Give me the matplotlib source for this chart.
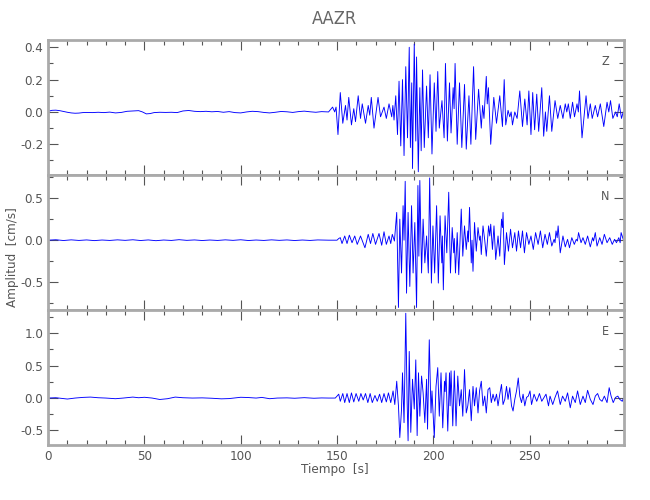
import numpy as np
import matplotlib
matplotlib.use('Agg')
import matplotlib.pyplot as plt
from matplotlib.ticker import MultipleLocator, FormatStrFormatter

plt.rcParams['font.family'] = ['Liberation Sans Narrow', 'DejaVu Sans']
plt.rcParams['font.stretch'] = 'condensed'

STATION = 'AAZR'
COMPONENTS = ['Z', 'N', 'E']

# --- Z component (time [s], amplitude [cm/s]) ---
z_t = [0, 2, 4, 6, 8, 10, 12, 14, 16, 18, 20, 23, 26, 29, 32, 35, 38, 41, 44, 47,
       49, 51, 53, 55, 58, 61, 64, 67, 70, 73, 76, 79, 82, 85, 88, 91, 94, 97, 100, 103,
       106, 109, 112, 115, 118, 121, 124, 127, 130, 133, 136, 139, 142,
       145.6, 147.7, 148.8, 149.5, 150.5, 151.7, 153.0, 154.4, 155.2, 156.1,
       157.5, 158.7, 159.6, 161.0, 162.2, 163.1, 164.8, 166.2, 167.0, 167.8,
       169.2, 171.3, 172.6, 174.4, 175.6, 177.0, 178.4, 179.0, 179.6, 180.5,
       181.4, 182.2, 183.1, 184.0, 184.8, 185.7, 186.6, 187.5, 188.1, 188.8,
       189.2, 190.1, 190.9, 191.3, 192.2, 193.0, 193.7, 194.4, 195.3, 196.5,
       197.4, 198.3, 199.3, 200.5, 201.4, 202.3, 203.1, 204.5, 205.6, 206.3,
       207.3, 208.4, 209.2, 210.3, 210.8, 211.3, 212.4, 213.6, 214.8, 216.2,
       217.1, 218.5, 219.5, 220.9, 222.0, 223.5, 224.9, 225.6, 226.3, 227.5,
       228.0, 228.6, 229.8, 231.4, 232.8, 234.5, 235.9, 236.8, 237.6, 238.8,
       239.7, 240.4, 241.1, 242.3, 243.5, 244.9, 246.3, 247.5, 248.7, 249.6,
       250.7, 251.6, 252.6, 253.7, 254.7, 256.3, 257.3, 258.2, 258.9, 260.3,
       261.5, 263.2, 264.6, 265.9, 267.3, 268.5, 269.3, 270.1, 271.1, 272.3,
       273.3, 274.6, 275.3, 275.9, 277.2, 278.4, 279.3, 280.3, 281.5, 282.5,
       284.1, 285.3, 286.7, 288.5, 290.2, 291.1, 292.0, 293.2, 294.6, 295.5,
       296.5, 297.7, 298.6]
z_amp = [0.004, 0.010, 0.011, 0.008, 0.003, -0.002, -0.006, -0.008, -0.007, -0.004,
         -0.003, -0.004, -0.002, -0.004, -0.001, -0.006, -0.003, 0.004, 0.006, 0.008,
         0.000, -0.012, -0.010, -0.004, -0.002, -0.003, -0.002, -0.004, 0.006, 0.009,
         0.004, 0.002, 0.004, 0.001, 0.003, -0.002, 0.002, -0.004, -0.006, 0.000,
         0.004, 0.002, -0.003, -0.006, -0.002, 0.003, 0.001, -0.003, 0.002, 0.005,
         0.001, -0.002, 0.002,
         0.00, 0.03, 0.00, 0.03, -0.14, 0.12, -0.07, 0.04, -0.05, 0.09,
         -0.08, 0.02, -0.06, 0.10, -0.04, 0.05, -0.07, 0.04, -0.02, 0.09,
         -0.10, 0.09, -0.03, 0.03, -0.04, 0.05, -0.03, 0.04, -0.05, 0.10,
         -0.14, 0.19, -0.21, 0.20, -0.27, 0.28, -0.16, 0.40, -0.22, 0.18,
         -0.35, 0.42, -0.18, 0.34, -0.37, 0.15, -0.24, 0.26, -0.22, 0.16,
         -0.16, 0.23, -0.26, 0.18, -0.12, 0.25, -0.10, 0.07, -0.16, 0.30,
         -0.18, 0.18, -0.13, 0.15, 0.02, 0.30, -0.20, 0.18, -0.22, 0.17,
         -0.23, 0.10, -0.20, 0.28, -0.17, 0.14, -0.10, 0.04, -0.04, 0.22,
         0.05, 0.15, -0.20, 0.09, -0.07, 0.10, -0.09, 0.20, -0.08, 0.01,
         -0.03, 0.00, -0.08, 0.00, -0.04, 0.13, -0.09, 0.08, -0.08, 0.13,
         -0.14, 0.12, -0.11, 0.11, -0.12, 0.15, -0.15, 0.00, -0.12, 0.10,
         -0.12, 0.07, -0.04, 0.04, -0.04, 0.05, 0.00, 0.05, -0.04, 0.06,
         -0.03, 0.05, 0.00, 0.13, -0.16, -0.01, 0.10, -0.04, 0.05, -0.04,
         0.04, -0.03, 0.05, -0.09, 0.06, 0.00, 0.07, -0.04, 0.00, -0.03,
         0.05, -0.04, 0.00]

# --- N component ---
n_t = [0, 4, 8, 12, 16, 20, 24, 28, 32, 36, 40, 44, 48, 52, 56, 60, 64, 68, 72, 76,
       80, 84, 88, 92, 96, 100, 104, 108, 112, 116, 120, 124, 128, 132, 136, 140, 144,
       145.6, 150.0, 150.9, 151.7, 152.6, 154.0, 155.2, 156.4, 157.8, 159.2,
       160.5, 162.2, 164.5, 166.2, 167.4, 168.6, 170.0, 171.8, 173.2, 174.4,
       175.6, 177.0, 177.9, 178.7, 179.8, 181.0, 181.9, 182.6, 183.5, 184.3,
       184.8, 185.4, 186.1, 186.9, 187.8, 188.7, 189.5, 190.4, 191.3, 192.0,
       192.5, 193.0, 193.9, 194.7, 195.6, 196.5, 197.4, 198.1, 199.0, 199.8,
       200.7, 201.7, 202.6, 203.5, 204.4, 204.7, 205.2, 206.1, 207.0, 208.0,
       208.9, 209.8, 210.6, 210.9, 211.5, 212.4, 213.2, 214.5, 215.3, 216.2,
       217.1, 217.9, 218.2, 218.8, 219.7, 220.1, 220.6, 221.4, 222.3, 223.2,
       224.0, 224.4, 224.9, 225.8, 226.7, 227.5, 228.7, 229.3, 229.8, 230.7,
       231.5, 232.4, 233.6, 234.5, 235.4, 235.9, 236.2, 236.9, 238.0, 239.0,
       240.1, 241.1, 242.3, 243.2, 244.2, 245.3, 246.3, 247.3, 248.4, 249.6,
       250.7, 251.9, 253.1, 254.4, 255.6, 256.8, 258.0, 259.2, 260.3, 261.5,
       262.7, 263.2, 263.7, 264.3, 264.8, 265.9, 267.3, 268.5, 269.7, 270.7,
       271.9, 273.2, 274.2, 274.8, 275.4, 276.7, 277.7, 278.9, 280.1, 281.5,
       282.7, 283.2, 284.1, 285.0, 286.4, 287.6, 288.8, 290.2, 291.6, 292.9,
       294.1, 295.1, 296.3, 297.0, 297.5, 298.6]
n_amp = [0.000, 0.005, -0.004, 0.004, -0.003, 0.003, -0.005, 0.002, -0.003, 0.004,
         -0.002, 0.005, -0.004, 0.003, -0.006, 0.002, -0.003, 0.006, -0.002, 0.003,
         -0.004, 0.002, -0.003, 0.004, -0.002, 0.005, -0.004, 0.002, -0.003, 0.004,
         -0.002, 0.003, -0.004, 0.002, -0.003, 0.003, 0.000,
         0.00, 0.00, 0.02, 0.03, -0.04, 0.05, -0.04, 0.06, -0.03, 0.05,
         -0.05, 0.05, -0.09, 0.07, -0.04, 0.08, -0.05, 0.08, -0.06, 0.10,
         -0.05, 0.05, -0.04, 0.07, -0.01, 0.33, -0.80, 0.25, -0.39, 0.41,
         0.00, 0.70, -0.63, 0.33, -0.55, 0.41, -0.39, 0.21, -0.80, 0.65,
         -0.19, 0.71, -0.39, 0.25, -0.27, 0.05, -0.39, 0.74, -0.51, 0.17,
         -0.39, 0.41, -0.51, 0.29, -0.27, 0.05, -0.59, 0.29, -0.15, 0.57,
         -0.39, 0.15, -0.15, 0.02, -0.39, 0.09, -0.41, 0.37, -0.19, 0.17,
         -0.11, 0.11, -0.02, 0.39, -0.27, 0.00, -0.37, 0.21, -0.13, 0.15,
         0.00, 0.05, -0.17, 0.17, 0.00, -0.19, 0.17, 0.05, 0.19, -0.11,
         0.17, -0.23, 0.05, -0.19, 0.25, 0.15, 0.33, -0.29, 0.09, -0.13,
         0.13, -0.09, 0.09, -0.13, 0.11, -0.09, 0.11, -0.15, 0.09, -0.05,
         0.05, -0.11, 0.09, -0.05, 0.11, -0.09, 0.07, -0.05, 0.09, -0.07,
         0.01, -0.03, 0.11, 0.03, 0.17, -0.15, 0.05, -0.08, 0.01, -0.09,
         0.03, -0.05, 0.01, -0.01, 0.09, -0.03, 0.03, -0.05, 0.05, -0.08,
         0.03, -0.01, 0.09, -0.07, 0.03, -0.05, 0.07, -0.03, 0.03, -0.05,
         0.01, -0.03, 0.03, -0.03, 0.09, 0.01]

# --- E component ---
e_t = [0, 4, 7, 10, 14, 18, 22, 26, 30, 35, 39, 44, 47, 50, 54, 58, 62, 66, 70, 75,
       80, 85, 90, 94, 100, 104, 108, 111, 115, 119, 124, 128, 133, 138, 142,
       145.6, 149.1, 150.9, 151.7, 153.0, 154.0, 155.2, 156.4, 157.5, 158.7,
       159.9, 161.3, 162.4, 163.6, 164.8, 166.0, 167.2, 168.3, 169.7, 170.9,
       172.1, 173.2, 174.4, 175.6, 176.7, 177.9, 179.1, 180.0, 181.0, 181.9,
       182.6, 183.5, 184.0, 184.8, 185.7, 186.4, 186.9, 187.5, 188.3, 189.2,
       190.1, 190.9, 191.6, 192.3, 193.0, 193.9, 194.7, 195.6, 196.5, 197.0,
       197.9, 198.8, 199.3, 200.5, 201.4, 202.3, 203.1, 204.0, 204.9, 205.8,
       206.1, 206.6, 207.5, 208.4, 208.7, 209.2, 210.1, 210.9, 211.8, 212.7,
       213.6, 214.5, 215.3, 216.2, 217.1, 217.9, 218.8, 219.7, 220.6, 221.4,
       222.3, 223.2, 224.0, 224.9, 225.8, 226.7, 227.5, 228.4, 229.3, 230.1,
       231.0, 231.9, 232.8, 233.6, 234.5, 235.4, 236.2, 237.1, 238.0, 238.8,
       239.7, 240.6, 241.4, 242.3, 243.2, 244.1, 244.9, 245.8, 246.6, 247.5,
       248.4, 249.3, 250.2, 251.0, 252.3, 253.7, 255.1, 256.3, 257.5, 258.5,
       259.8, 260.6, 262.0, 263.2, 264.5, 265.9, 267.1, 268.5, 269.7, 271.1,
       272.3, 273.7, 274.9, 276.3, 277.7, 278.9, 280.1, 281.5, 282.9, 284.1,
       285.3, 286.4, 287.6, 288.8, 290.2, 291.3, 292.3, 293.4, 294.6, 295.8,
       296.8, 298.1, 298.6]
e_amp = [0.0, 0.005, -0.005, -0.015, 0.0, 0.01, 0.015, 0.005, 0.0, -0.01,
         0.0, 0.015, 0.005, 0.012, 0.0, -0.022, -0.01, 0.015, 0.005, 0.0,
         0.003, -0.003, -0.012, -0.008, 0.012, 0.008, 0.0, 0.01, -0.01, 0.0,
         0.003, -0.003, 0.006, -0.003, 0.002,
         0.00, 0.00, 0.06, -0.05, 0.07, -0.07, 0.07, -0.07, 0.08, -0.06,
         0.07, -0.05, 0.07, -0.03, 0.07, -0.07, 0.07, -0.07, 0.04, -0.05,
         0.06, -0.07, 0.07, -0.06, 0.08, -0.07, 0.11, -0.10, 0.26, -0.12,
         -0.61, -0.17, 0.39, -0.38, 1.31, -0.05, -0.66, 0.72, -0.53, 0.29,
         -0.17, 0.59, -0.58, 0.39, -0.28, 0.34, 0.08, -0.38, 0.29, -0.48,
         0.90, -0.23, 0.11, -0.61, 0.18, 0.47, -0.28, 0.39, -0.46, 0.26,
         0.10, 0.39, -0.51, 0.39, -0.12, 0.42, -0.43, 0.42, -0.43, 0.34,
         -0.12, 0.13, -0.28, 0.44, -0.23, -0.12, 0.13, -0.35, 0.18, -0.12,
         0.16, -0.23, 0.11, 0.26, -0.12, 0.03, -0.23, 0.13, 0.16, -0.07,
         0.06, -0.05, 0.06, -0.12, 0.06, 0.21, -0.10, -0.02, 0.18, -0.02,
         0.16, -0.12, -0.20, -0.02, 0.11, 0.31, 0.03, -0.07, 0.06, -0.12,
         0.01, 0.03, 0.11, -0.10, 0.06, -0.05, 0.07, -0.05, 0.01, 0.06,
         -0.12, 0.03, -0.10, 0.01, 0.11, -0.10, 0.03, -0.05, 0.08, -0.15,
         0.03, -0.07, 0.11, -0.10, 0.03, -0.07, 0.12, -0.02, -0.10, 0.03,
         0.07, -0.02, -0.05, 0.03, -0.07, 0.16, 0.03, -0.07, 0.01, 0.03,
         -0.02, -0.05, -0.01]

y_limits = [(-0.39, 0.445), (-0.83, 0.775), (-0.725, 1.36)]
y_major = [0.2, 0.5, 0.5]
y_minor = [0.1, 0.25, 0.25]

GRAY = '#aaaaaa'
TXT = '#555555'

fig = plt.figure(figsize=(6.5, 5), dpi=100)
gs = fig.add_gridspec(3, 1, left=0.074, right=0.96, top=0.92, bottom=0.11, hspace=0)
traces = [(z_t, z_amp), (n_t, n_amp), (e_t, e_amp)]

for i, (t, amp) in enumerate(traces):
    ax = fig.add_subplot(gs[i])
    ax.plot(np.array(t), np.array(amp), color='#0000ff', lw=0.65)
    ax.set_xlim(0, 299)
    ax.set_ylim(*y_limits[i])
    ax.xaxis.set_major_locator(MultipleLocator(50))
    ax.xaxis.set_minor_locator(MultipleLocator(10))
    ax.yaxis.set_major_locator(MultipleLocator(y_major[i]))
    ax.yaxis.set_minor_locator(MultipleLocator(y_minor[i]))
    ax.yaxis.set_major_formatter(FormatStrFormatter('%.1f'))
    ax.tick_params(which='both', direction='in', top=True, right=True,
                   color='#555555', labelcolor=TXT, labelsize=9.5, width=0.8)
    ax.tick_params(which='major', length=7)
    ax.tick_params(which='minor', length=3.5)
    for sp in ax.spines.values():
        sp.set_color(GRAY)
        sp.set_linewidth(2)
    if i < 2:
        ax.tick_params(labelbottom=False)
    ax.text(0.967, 0.84, COMPONENTS[i], transform=ax.transAxes, ha='center',
            va='center', fontsize=9, color=TXT)

fig.text(0.515, 0.962, STATION, ha='center', va='center', fontsize=13, color='#666666')
fig.text(0.515, 0.062, 'Tiempo  [s]', ha='center', va='center', fontsize=9.5, color=TXT)
fig.text(0.02, 0.485, 'Amplitud  [cm/s]', ha='center', va='center', rotation=90,
         fontsize=9.5, color=TXT)

fig.savefig('out.png', dpi=100)
